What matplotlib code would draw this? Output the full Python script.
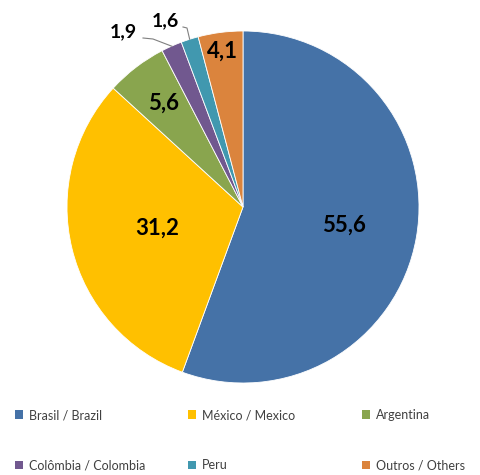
import numpy as np
import matplotlib
matplotlib.use('Agg')
import matplotlib.pyplot as plt
from matplotlib.patches import Patch

# Data
countries = ['Brasil / Brazil', 'México / Mexico', 'Argentina',
             'Colômbia / Colombia', 'Peru', 'Outros / Others']
shares = [55.6, 31.2, 5.6, 1.9, 1.6, 4.1]
labels = ['55,6', '31,2', '5,6', '1,9', '1,6', '4,1']
colors = ['#4572A7', '#FFC000', '#89A54E', '#71588F', '#4198AF', '#DB843D']

W, H = 481, 475
fig = plt.figure(figsize=(W / 100, H / 100), dpi=100)
plt.rcParams['font.family'] = ['Lato', 'DejaVu Sans']

# pie axes, square in pixels, centre ~ (243, 207), radius ~176
cx, cy, r = 243, 207, 176
ax = fig.add_axes([(cx - r) / W, (H - cy - r) / H, 2 * r / W, 2 * r / H])
wedges, _ = ax.pie(shares, colors=colors, startangle=90, counterclock=False,
                   radius=1, wedgeprops=dict(edgecolor='white', linewidth=0.6))
ax.set_xlim(-1, 1)
ax.set_ylim(-1, 1)
ax.set_aspect('equal')
ax.axis('off')


def px(x, y):
    # pixel position -> pie data coords
    return (x - cx) / r, (cy - y) / r


# inside labels: radius per slice (best-fit like placement)
inside = {0: 0.58, 1: 0.50, 2: 0.74, 5: 0.89}
for i, w in enumerate(wedges):
    mid = np.deg2rad((w.theta1 + w.theta2) / 2)
    if i in inside:
        rr = inside[i]
        ax.text(rr * np.cos(mid), rr * np.sin(mid), labels[i], ha='center', va='center',
                fontsize=16, fontweight='bold', color='black')

# outside labels with leader lines (text pos, line start, kink)
outside = {3: ((123, 32), (143, 38), (153, 39)),
           4: ((165, 21), (183, 27), (187, 28))}
for i, (tpos, lstart, kink) in outside.items():
    w = wedges[i]
    mid = np.deg2rad((w.theta1 + w.theta2) / 2)
    ex, ey = np.cos(mid), np.sin(mid)
    tx, ty = px(*tpos)
    ax.text(tx, ty, labels[i], ha='center', va='center', fontsize=14,
            fontweight='bold', color='black', clip_on=False)
    sx, sy = px(*lstart)
    kx, ky = px(*kink)
    ax.plot([sx, kx, ex], [sy, ky, ey], color='#808080', lw=0.8, clip_on=False)

# legend, one column of two rows at a time
col_x = [15, 188, 362]
for c in range(3):
    idx = [c, c + 3]
    handles = [Patch(facecolor=colors[k], edgecolor='none') for k in idx]
    leg = fig.legend(handles, [countries[k] for k in idx], loc='upper left',
                     bbox_to_anchor=(col_x[c] / W, 1 - 409 / H), frameon=False,
                     fontsize=9, handlelength=0.65, handleheight=0.65, handletextpad=0.45,
                     labelspacing=3.05, borderpad=0, borderaxespad=0)
    for t in leg.get_texts():
        t.set_color('#404040')

fig.savefig('out.png', dpi=100)
